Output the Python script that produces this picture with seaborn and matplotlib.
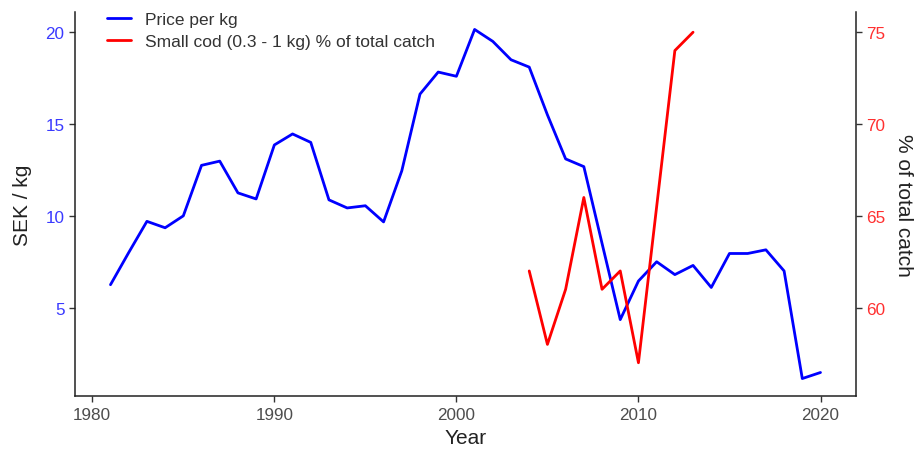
import matplotlib
matplotlib.use("Agg")
import matplotlib.pyplot as plt
import seaborn as sns
import pandas as pd
import numpy as np

# ---- data ----
price_years = list(range(1981, 2021))
price_sek = [6.25, 8.0, 9.7, 9.35, 10.0, 12.75, 12.98, 11.25, 10.92, 13.86,
             14.46, 14.0, 10.87, 10.43, 10.55, 9.67, 12.45, 16.63, 17.83, 17.6,
             20.15, 19.5, 18.5, 18.1, 15.5, 13.1, 12.68, 8.5, 4.35, 6.45,
             7.5, 6.8, 7.3, 6.1, 7.95, 7.95, 8.15, 7.0, 1.14, 1.47]
cod_years = list(range(2004, 2014))
cod_pct = [62, 58, 61, 66, 61, 62, 57, 65.5, 74, 75]
left_ticks = [5, 10, 15, 20]
right_ticks = [60, 65, 70, 75]
x_ticks = [1980, 1990, 2000, 2010, 2020]
sec_offset = 55  # right axis = left axis + 55

price_df = pd.DataFrame({"Year": price_years, "Price": price_sek})
cod_df = pd.DataFrame({"Year": cod_years, "Pct": cod_pct})

sns.set_theme(style="ticks")
plt.rcParams["font.family"] = ["Liberation Sans", "DejaVu Sans"]

fig = plt.figure(figsize=(9.21, 4.52), dpi=100)
ax = fig.add_axes([75 / 921, 1 - 397 / 452, (856 - 75) / 921, (397 - 13) / 452])
ax2 = ax.twinx()

sns.lineplot(data=price_df, x="Year", y="Price", ax=ax, color="#0000FF",
             linewidth=2.0, label="Price per kg", legend=False)
sns.lineplot(data=cod_df, x="Year", y="Pct", ax=ax2, color="#FF0000",
             linewidth=2.0, label="Small cod (0.3 - 1 kg) % of total catch", legend=False)

# ggplot-like 5% expansion
ymin, ymax = min(price_sek), max(price_sek)
pad = 0.05 * (ymax - ymin)
ax.set_ylim(ymin - pad, ymax + pad)
ax2.set_ylim(ymin - pad + sec_offset, ymax + pad + sec_offset)
xmin, xmax = min(price_years), max(price_years)
xpad = 0.05 * (xmax - xmin)
ax.set_xlim(xmin - xpad, xmax + xpad)

ax.set_xticks(x_ticks)
ax.set_yticks(left_ticks)
ax2.set_yticks(right_ticks)

for a in (ax, ax2):
    a.spines["top"].set_visible(False)
    for s in ("left", "right", "bottom"):
        a.spines[s].set_color("#222222")
        a.spines[s].set_linewidth(1.1)
ax.spines["right"].set_visible(False)
ax2.spines["left"].set_visible(False)
ax2.spines["bottom"].set_visible(False)

ax.tick_params(axis="x", labelsize=12.3, labelcolor="#4D4D4D", color="#333333",
               length=4, width=1, pad=4)
ax.tick_params(axis="y", labelsize=12.3, labelcolor="#3A3AFF", color="#333333",
               length=4, width=1)
ax2.tick_params(axis="y", labelsize=12.3, labelcolor="#FF3030", color="#333333",
                length=4, width=1)

ax.set_xlabel("Year", fontsize=15, color="#222222", labelpad=4)
ax.set_ylabel("SEK / kg", fontsize=15, color="#222222", labelpad=10)
ax2.set_ylabel("% of total catch", fontsize=15, color="#222222",
               rotation=270, labelpad=20)

h1, l1 = ax.get_legend_handles_labels()
h2, l2 = ax2.get_legend_handles_labels()
leg = ax2.legend(h1 + h2, l1 + l2, loc="upper left",
                 bbox_to_anchor=(0.032, 1.018), frameon=False, fontsize=12.5,
                 handlelength=1.4, handletextpad=0.8, labelspacing=0.4,
                 borderaxespad=0)
for t in leg.get_texts():
    t.set_color("#333333")

fig.savefig("out.png", dpi=100)
